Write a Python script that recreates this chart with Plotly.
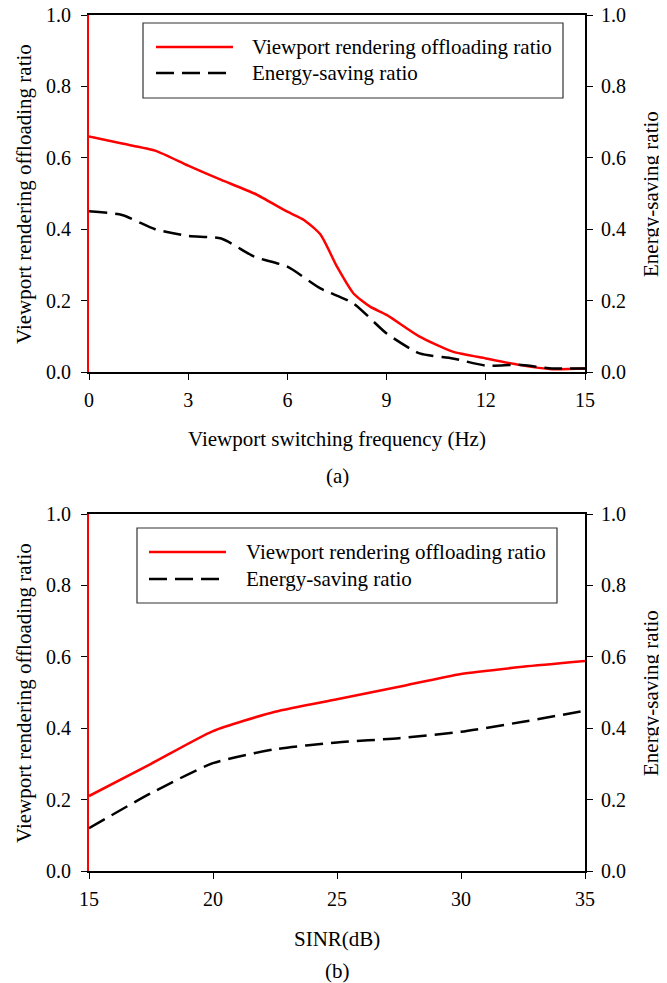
import plotly.graph_objects as go

# ---------------- data ----------------
freq = [0, 1, 2, 3, 4, 5, 6, 6.5, 7, 7.5, 8, 8.5, 9, 10, 11, 12, 13, 14, 15]
offload_a = [0.66, 0.64, 0.62, 0.578, 0.538, 0.50, 0.449, 0.426, 0.385, 0.295, 0.22, 0.183, 0.16, 0.099, 0.057, 0.038, 0.02, 0.008, 0.01]
freq_e = [0, 1, 2, 3, 4, 5, 6, 7, 8, 9, 10, 11, 12, 13, 14, 15]
energy_a = [0.45, 0.44, 0.40, 0.381, 0.374, 0.323, 0.295, 0.234, 0.192, 0.108, 0.052, 0.038, 0.018, 0.02, 0.01, 0.01]

sinr = [15, 17.5, 20, 22.5, 25, 27.5, 30, 32.5, 35]
offload_b = [0.21, 0.30, 0.392, 0.446, 0.481, 0.516, 0.552, 0.572, 0.588]
energy_b = [0.12, 0.218, 0.302, 0.341, 0.36, 0.372, 0.39, 0.418, 0.449]

xticks_a = [0, 3, 6, 9, 12, 15]
xticks_b = [15, 20, 25, 30, 35]
yticks = [0.0, 0.2, 0.4, 0.6, 0.8, 1.0]

name_off = "Viewport rendering offloading ratio"
name_en = "Energy-saving ratio"

# ---------------- layout helpers ----------------
OFF = 8              # page body margin of the browser (figure starts 8px in)
W, H = 667, 983
FONT = "Liberation Serif, Times New Roman, serif"
RED = "#ff0000"
DASH = "18px,8px"

def fx(x):
    return (x - OFF) / W

def fy(y):
    return 1 - (y - OFF) / H

xdom = [fx(89), fx(585)]
ydom_a = [fy(372), fy(15)]
ydom_b = [fy(871), fy(514)]

fig = go.Figure()

fig.add_trace(go.Scatter(x=freq, y=offload_a, mode="lines", name=name_off,
                         line=dict(color=RED, width=2.5, shape="spline", smoothing=0.6),
                         xaxis="x", yaxis="y", showlegend=False))
fig.add_trace(go.Scatter(x=freq_e, y=energy_a, mode="lines", name=name_en,
                         line=dict(color="black", width=2.5, dash=DASH, shape="spline", smoothing=0.6),
                         xaxis="x", yaxis="y3", showlegend=False))
fig.add_trace(go.Scatter(x=sinr, y=offload_b, mode="lines", name=name_off,
                         line=dict(color=RED, width=2.5, shape="spline", smoothing=0.6),
                         xaxis="x2", yaxis="y2", showlegend=False))
fig.add_trace(go.Scatter(x=sinr, y=energy_b, mode="lines", name=name_en,
                         line=dict(color="black", width=2.5, dash=DASH, shape="spline", smoothing=0.6),
                         xaxis="x2", yaxis="y4", showlegend=False))

tickfont = dict(family=FONT, size=20, color="black")

common = dict(showgrid=False, zeroline=False, tickfont=tickfont, automargin=False,
              ticklabeloverflow="allow", fixedrange=True,
              ticks="outside", ticklen=6, tickwidth=1.2, tickcolor="black")

def xaxis(dom, anchor, rng, ticks):
    return dict(domain=dom, anchor=anchor, range=rng, tickvals=ticks,
                showline=True, linecolor="black", linewidth=1.5, mirror=True,
                ticklabelstandoff=3, **common)

def yleft(dom, anchor):
    return dict(domain=dom, anchor=anchor, range=[0, 1], tickvals=yticks, tickformat=".1f",
                showline=True, linecolor=RED, linewidth=2,
                ticklabelstandoff=6, **common)

def yright(overlay, anchor):
    return dict(overlaying=overlay, anchor=anchor, side="right", range=[0, 1],
                tickvals=yticks, tickformat=".1f",
                showline=True, linecolor="black", linewidth=2,
                ticklabelstandoff=4, **common)

shapes = []
annotations = []

def legend_box(x0, y0, x1, y1, lx0, lx1, tx, ly1, ly2):
    shapes.append(dict(type="rect", xref="paper", yref="paper",
                       x0=fx(x0), x1=fx(x1), y0=fy(y1), y1=fy(y0),
                       line=dict(color="#333333", width=1.2), fillcolor="white", layer="above"))
    shapes.append(dict(type="line", xref="paper", yref="paper",
                       x0=fx(lx0), x1=fx(lx1), y0=fy(ly1), y1=fy(ly1),
                       line=dict(color=RED, width=2.5), layer="above"))
    shapes.append(dict(type="line", xref="paper", yref="paper",
                       x0=fx(lx0), x1=fx(lx1 - 6), y0=fy(ly2), y1=fy(ly2),
                       line=dict(color="black", width=2.5, dash=DASH), layer="above"))
    for txt, yy in ((name_off, ly1), (name_en, ly2)):
        annotations.append(dict(text=txt, xref="paper", yref="paper", x=fx(tx), y=fy(yy),
                                xanchor="left", yanchor="middle", showarrow=False,
                                font=dict(family=FONT, size=21, color="black")))

legend_box(143, 23, 563, 98, 156, 233, 250, 47, 73)
legend_box(137, 528, 557, 603, 149, 226, 244, 552, 579)

def text(t, x, y, angle=0, size=21):
    annotations.append(dict(text=t, xref="paper", yref="paper", x=fx(x), y=fy(y),
                            xanchor="center", yanchor="middle", showarrow=False, textangle=angle,
                            font=dict(family=FONT, size=size, color="black")))

text("Viewport rendering offloading ratio", 24, 194, -90)
text("Energy-saving ratio", 651, 194, -90)
text("Viewport switching frequency (Hz)", 337, 439)
text("(a)", 337, 476)

text("Viewport rendering offloading ratio", 24, 693, -90)
text("Energy-saving ratio", 651, 693, -90)
text("SINR(dB)", 337, 939)
text("(b)", 337, 971)

fig.update_layout(
    template="none",
    width=W, height=H,
    margin=dict(l=0, r=0, t=0, b=0, autoexpand=False),
    paper_bgcolor="white", plot_bgcolor="white",
    showlegend=False,
    xaxis=xaxis(xdom, "y", [0, 15], xticks_a),
    yaxis=yleft(ydom_a, "x"),
    yaxis3=yright("y", "x"),
    xaxis2=xaxis(xdom, "y2", [15, 35], xticks_b),
    yaxis2=yleft(ydom_b, "x2"),
    yaxis4=yright("y2", "x2"),
    shapes=shapes,
    annotations=annotations,
)

fig.write_html("out.html")
